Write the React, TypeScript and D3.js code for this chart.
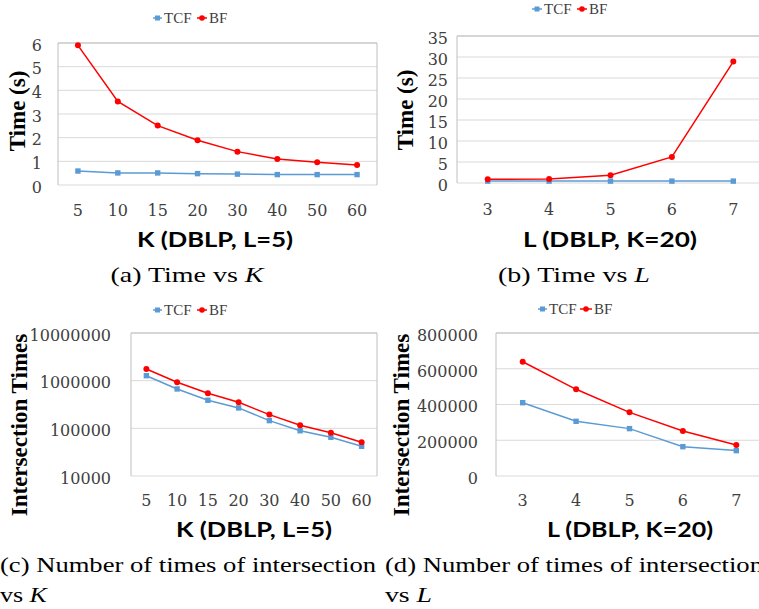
import React from "react";
import * as d3 from "d3";

// ---------- data ----------
const kCats = ["5", "10", "15", "20", "30", "40", "50", "60"];
const lCats = ["3", "4", "5", "6", "7"];

const timeK_TCF = [0.59, 0.51, 0.51, 0.48, 0.46, 0.44, 0.44, 0.44];
const timeK_BF = [5.9, 3.53, 2.51, 1.89, 1.41, 1.1, 0.96, 0.85];

const timeL_TCF = [0.45, 0.45, 0.45, 0.45, 0.45];
const timeL_BF = [0.88, 0.95, 1.83, 6.2, 28.9];

const interK_TCF = [1270000, 670000, 388000, 268000, 145000, 89000, 65000, 42000];
const interK_BF = [1760000, 925000, 543000, 352000, 194000, 116000, 81000, 51000];

const interL_TCF = [410000, 306000, 265000, 164000, 142000];
const interL_BF = [639000, 485000, 356000, 252000, 173000];

const timeKTicks = [0, 1, 2, 3, 4, 5, 6];
const timeLTicks = [0, 5, 10, 15, 20, 25, 30, 35];
const interKTicks = [10000, 100000, 1000000, 10000000];
const interLTicks = [0, 200000, 400000, 600000, 800000];

const seriesNames = ["TCF", "BF"];

// ---------- styles ----------
const TCF_COLOR = "#5b9bd5";
const BF_COLOR = "#ff0000";
const GRID = "#d9d9d9";
const BORDER = "#bfbfbf";
const TICK_FONT = "'DejaVu Serif', serif";
const TITLE_FONT = "'Liberation Serif', serif";
const XTITLE_FONT = "Lato, 'Open Sans', sans-serif";
const CAPTION_FONT = "'Liberation Serif', serif";

type PanelProps = {
  cats: string[];
  tcf: number[];
  bf: number[];
  ticks: number[];
  log?: boolean;
  left: number;
  right: number;
  top: number;
  bottom: number;
  tickRight: number;
  xTickBase: number;
  yTitle: string;
  yTitleX: number;
  yTitleY: number;
  yTitleSize: number;
  xTitle: string;
  xTitleX: number;
  xTitleBase: number;
  xTitleLen: number;
  legendY: number;
  legendX: [number, number, number, number];
};

function Panel(p: PanelProps) {
  const x = d3.scalePoint<string>().domain(p.cats).range([p.left, p.right]).padding(0.5);
  const dom: [number, number] = [p.ticks[0], p.ticks[p.ticks.length - 1]];
  const y = p.log
    ? d3.scaleLog().domain(dom).range([p.bottom, p.top])
    : d3.scaleLinear().domain(dom).range([p.bottom, p.top]);

  const line = d3
    .line<number>()
    .x((_, i) => x(p.cats[i]) as number)
    .y((d) => y(d));

  const [t0, t1, b0, b1] = p.legendX;
  const tc = (t0 + t1) / 2;
  const bc = (b0 + b1) / 2;

  return (
    <g>
      {/* legend */}
      <g>
        <line x1={t0} x2={t1} y1={p.legendY} y2={p.legendY} stroke={TCF_COLOR} strokeWidth={1.5} />
        <rect x={tc - 2.5} y={p.legendY - 2.5} width={5} height={5} fill={TCF_COLOR} />
        <text x={t1 + 2} y={p.legendY} dy="0.35em" fontFamily={TITLE_FONT} fontSize={15} fill="#404040">
          {seriesNames[0]}
        </text>
        <line x1={b0} x2={b1} y1={p.legendY} y2={p.legendY} stroke={BF_COLOR} strokeWidth={1.5} />
        <circle cx={bc} cy={p.legendY} r={2.8} fill={BF_COLOR} />
        <text x={b1 + 2} y={p.legendY} dy="0.35em" fontFamily={TITLE_FONT} fontSize={15} fill="#404040">
          {seriesNames[1]}
        </text>
      </g>
      {/* gridlines */}
      {p.ticks.map((t) => (
        <line key={"g" + t} x1={p.left} x2={p.right} y1={y(t)} y2={y(t)} stroke={GRID} strokeWidth={1} />
      ))}
      {/* border */}
      <path
        d={`M${p.left},${p.bottom}V${p.top}H${p.right}V${p.bottom}`}
        fill="none"
        stroke={BORDER}
        strokeWidth={1}
      />
      {/* y tick labels */}
      {p.ticks.map((t) => (
        <text
          key={"t" + t}
          x={p.tickRight}
          y={y(t) + 2}
          dy="0.36em"
          textAnchor="end"
          fontFamily={TICK_FONT}
          fontSize={16}
          fill="#404040"
        >
          {String(t)}
        </text>
      ))}
      {/* x tick labels */}
      {p.cats.map((c) => (
        <text
          key={"x" + c}
          x={x(c) as number}
          y={p.xTickBase}
          textAnchor="middle"
          fontFamily={TICK_FONT}
          fontSize={16}
          fill="#404040"
        >
          {c}
        </text>
      ))}
      {/* series */}
      <path d={line(p.tcf) || ""} fill="none" stroke={TCF_COLOR} strokeWidth={1.5} />
      <path d={line(p.bf) || ""} fill="none" stroke={BF_COLOR} strokeWidth={1.5} />
      {p.tcf.map((v, i) => (
        <rect
          key={"ms" + i}
          x={(x(p.cats[i]) as number) - 2.7}
          y={y(v) - 2.7}
          width={5.4}
          height={5.4}
          fill={TCF_COLOR}
        />
      ))}
      {p.bf.map((v, i) => (
        <circle key={"mc" + i} cx={x(p.cats[i]) as number} cy={y(v)} r={3} fill={BF_COLOR} />
      ))}
      {/* y title */}
      <text
        transform={`translate(${p.yTitleX},${p.yTitleY}) rotate(-90)`}
        textAnchor="middle"
        dy="0.35em"
        fontFamily={TITLE_FONT}
        fontWeight="bold"
        fontSize={p.yTitleSize}
        fill="#000"
      >
        {p.yTitle}
      </text>
      {/* x title */}
      <text
        x={p.xTitleX}
        y={p.xTitleBase}
        textAnchor="middle"
        fontFamily={XTITLE_FONT}
        fontWeight="bold"
        fontSize={21}
        fill="#000"
        textLength={p.xTitleLen}
        lengthAdjust="spacingAndGlyphs"
      >
        {p.xTitle}
      </text>
    </g>
  );
}

export default function App() {
  return (
    <svg
      width={759}
      height={609}
      viewBox="0 0 759 609"
      style={{ position: "absolute", left: 0, top: 0, background: "#fff" }}
    >
      <rect width={759} height={609} fill="#fff" />
      <Panel
        cats={kCats}
        tcf={timeK_TCF}
        bf={timeK_BF}
        ticks={timeKTicks}
        left={58}
        right={377}
        top={43}
        bottom={185}
        tickRight={42}
        xTickBase={216}
        yTitle="Time (s)"
        yTitleX={17}
        yTitleY={111}
        yTitleSize={23}
        xTitle="K (DBLP, L=5)"
        xTitleX={215}
        xTitleBase={247}
        xTitleLen={156}
        legendY={18}
        legendX={[153, 162, 197, 207]}
      />
      <Panel
        cats={lCats}
        tcf={timeL_TCF}
        bf={timeL_BF}
        ticks={timeLTicks}
        left={457}
        right={764}
        top={36}
        bottom={183}
        tickRight={448}
        xTickBase={215}
        yTitle="Time (s)"
        yTitleX={405}
        yTitleY={110}
        yTitleSize={23}
        xTitle="L (DBLP, K=20)"
        xTitleX={610}
        xTitleBase={247}
        xTitleLen={174}
        legendY={9}
        legendX={[532, 542, 577, 587]}
      />
      <Panel
        cats={kCats}
        tcf={interK_TCF}
        bf={interK_BF}
        ticks={interKTicks}
        log
        left={131}
        right={377}
        top={333}
        bottom={476}
        tickRight={111}
        xTickBase={506}
        yTitle="Intersection Times"
        yTitleX={19}
        yTitleY={425}
        yTitleSize={23}
        xTitle="K (DBLP, L=5)"
        xTitleX={254}
        xTitleBase={537}
        xTitleLen={156}
        legendY={310}
        legendX={[153, 162, 197, 207]}
      />
      <Panel
        cats={lCats}
        tcf={interL_TCF}
        bf={interL_BF}
        ticks={interLTicks}
        left={496}
        right={763}
        top={333}
        bottom={476}
        tickRight={478}
        xTickBase={506}
        yTitle="Intersection Times"
        yTitleX={401}
        yTitleY={425}
        yTitleSize={23}
        xTitle="L (DBLP, K=20)"
        xTitleX={630}
        xTitleBase={537}
        xTitleLen={166}
        legendY={309}
        legendX={[538, 547, 580, 592]}
      />
      {/* captions */}
      <text x={187} y={282} textAnchor="middle" fontFamily={CAPTION_FONT} fontSize={22} textLength={153} lengthAdjust="spacingAndGlyphs">
        (a) Time vs <tspan fontStyle="italic">K</tspan>
      </text>
      <text x={574} y={282} textAnchor="middle" fontFamily={CAPTION_FONT} fontSize={22} textLength={152} lengthAdjust="spacingAndGlyphs">
        (b) Time vs <tspan fontStyle="italic">L</tspan>
      </text>
      <text x={0} y={572} fontFamily={CAPTION_FONT} fontSize={22} textLength={376} lengthAdjust="spacingAndGlyphs">
        (c) Number of times of intersection
      </text>
      <text x={0} y={602} fontFamily={CAPTION_FONT} fontSize={22} textLength={47} lengthAdjust="spacingAndGlyphs">
        vs <tspan fontStyle="italic">K</tspan>
      </text>
      <text x={385} y={572} fontFamily={CAPTION_FONT} fontSize={22} textLength={378} lengthAdjust="spacingAndGlyphs">
        (d) Number of times of intersection
      </text>
      <text x={385} y={602} fontFamily={CAPTION_FONT} fontSize={22} textLength={47} lengthAdjust="spacingAndGlyphs">
        vs <tspan fontStyle="italic">L</tspan>
      </text>
    </svg>
  );
}
